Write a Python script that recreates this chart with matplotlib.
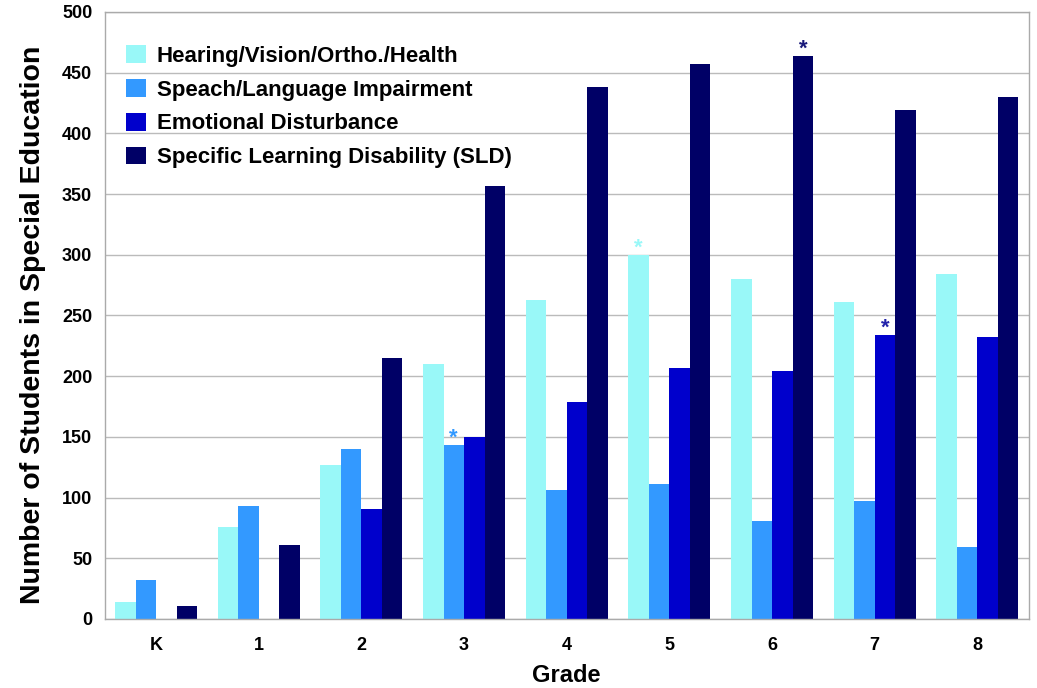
import matplotlib
matplotlib.use("Agg")
import matplotlib.pyplot as plt
import numpy as np

plt.rcParams['font.family'] = ['Liberation Sans', 'DejaVu Sans']

grades = ["K", "1", "2", "3", "4", "5", "6", "7", "8"]
series_names = [
    "Hearing/Vision/Ortho./Health",
    "Speach/Language Impairment",
    "Emotional Disturbance",
    "Specific Learning Disability (SLD)",
]
hearing = [14, 76, 127, 210, 263, 300, 280, 261, 284]
speech = [32, 93, 140, 143, 106, 111, 81, 97, 59]
emotional = [0, 0, 91, 150, 179, 207, 204, 234, 232]
sld = [11, 61, 215, 357, 438, 457, 464, 419, 430]
colors = ["#99F8F8", "#3399FF", "#0000CC", "#000066"]
star_colors = ["#99F8F8", "#3399FF", "#2222AA", "#1A1A7A"]
# (grade index, series index) of bars marked with an asterisk
starred = [(3, 1), (5, 0), (6, 3), (7, 2)]

data = [hearing, speech, emotional, sld]

fig = plt.figure(figsize=(10.37, 6.88), dpi=100)
ax = fig.add_axes([0.101, 0.1003, 0.891, 0.8823])

x = np.arange(len(grades))
w = 0.2
for i, (vals, c, name) in enumerate(zip(data, colors, series_names)):
    ax.bar(x + (i - 1.5) * w, vals, width=w, color=c, label=name, zorder=2)

for gi, si in starred:
    ax.text(x[gi] + (si - 1.5) * w, data[si][gi] - 3, "*", ha="center", va="bottom",
            fontsize=16, fontweight="bold", color=star_colors[si], zorder=3)

ax.set_xlim(-0.5, len(grades) - 0.5)
ax.set_ylim(0, 500)
ax.set_yticks(range(0, 501, 50))
ax.set_xticks(x)
ax.set_xticklabels(grades)
ax.tick_params(axis="both", length=0, labelsize=13)
ax.tick_params(axis="x", pad=13)
ax.tick_params(axis="y", pad=9)
for lab in ax.get_xticklabels() + ax.get_yticklabels():
    lab.set_fontweight("bold")
ax.yaxis.grid(True, color="#BBBBBB", linewidth=1, zorder=0)
ax.set_axisbelow(True)
for sp in ax.spines.values():
    sp.set_color("#AAAAAA")
    sp.set_linewidth(1)

ax.set_xlabel("Grade", fontsize=17, fontweight="bold", labelpad=7)
ax.set_ylabel("Number of Students in Special Education", fontsize=20.5,
              fontweight="bold")
ax.yaxis.set_label_coords(-0.064, 0.485)

leg = ax.legend(loc="upper left", bbox_to_anchor=(0.001, 0.978), frameon=False,
                fontsize=16, handlelength=0.9, handleheight=0.85,
                handletextpad=0.5, labelspacing=0.55)
for t in leg.get_texts():
    t.set_fontweight("bold")

fig.savefig("out.png", dpi=100, facecolor="white")
